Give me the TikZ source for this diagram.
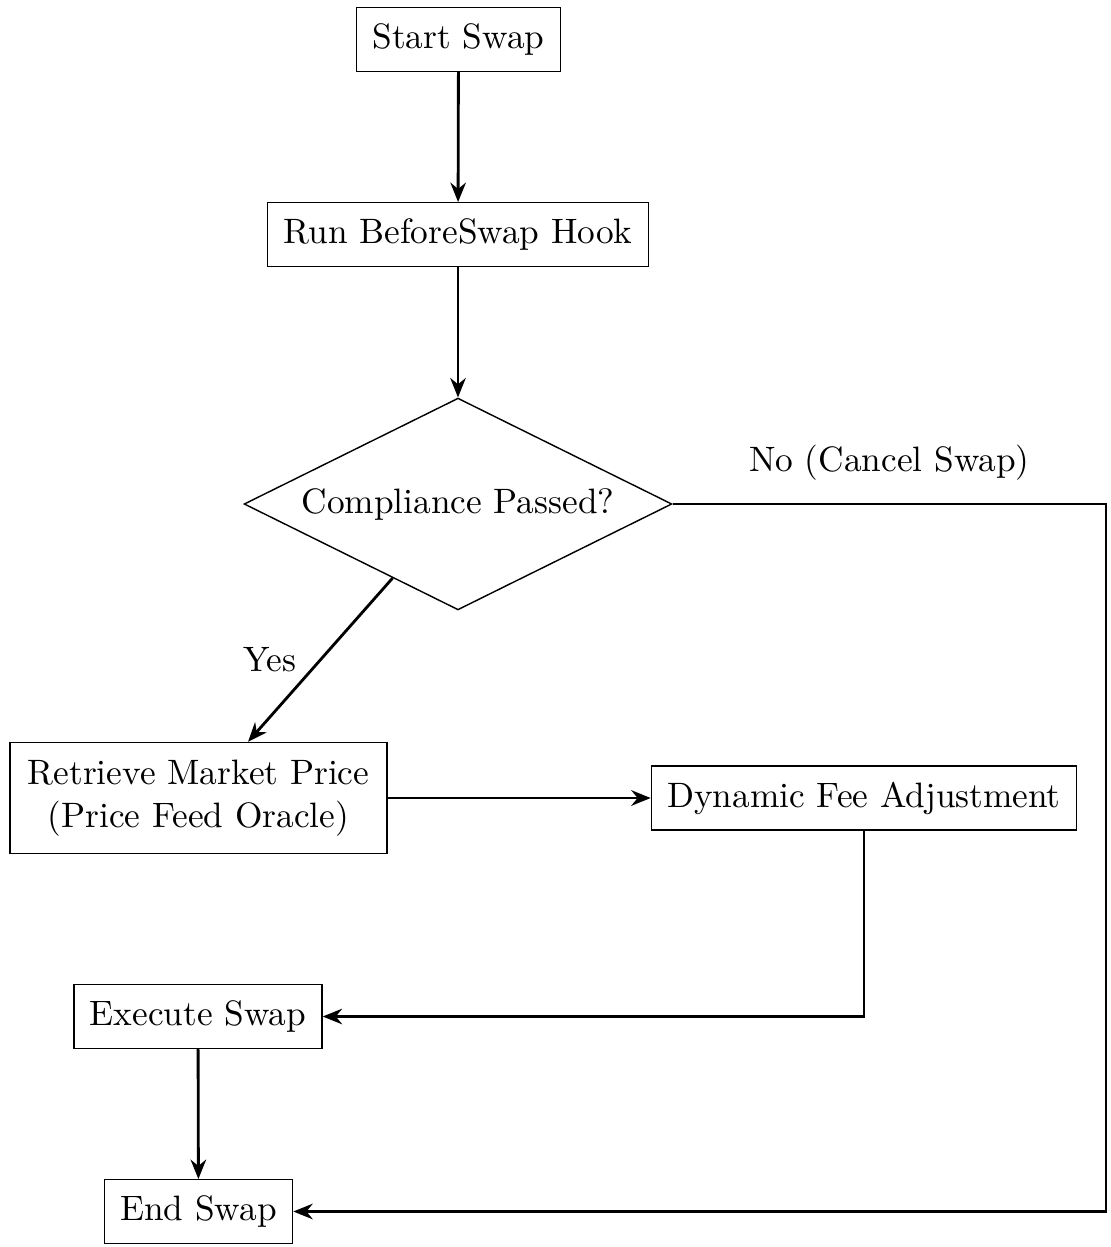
\documentclass[tikz,border=0pt]{standalone}
\usetikzlibrary{shapes.geometric,arrows.meta}
\begin{document}
\begin{tikzpicture}[x=0.2833pt,y=-0.2833pt,
  box/.style={draw,rectangle,inner sep=4.5pt,align=center},
  decision/.style={draw,diamond,aspect=2,inner sep=0pt,minimum width=121.2pt,minimum height=60pt},
  flow/.style={thick,-{Stealth[length=5.5pt,width=4.4pt]}}]
\path[use as bounding box] (0,0) rectangle (1111,1247);
\node[box] (start) at (458.5,39.5) {Start Swap};
\node[box] (hook) at (458,234.5) {Run BeforeSwap Hook};
\node[decision] (comp) at (458,504) {Compliance Passed?};
\node[box,inner sep=5pt] (retr) at (198.5,798) {Retrieve Market Price\\(Price Feed Oracle)};
\node[box] (fee) at (864,798) {Dynamic Fee Adjustment};
\node[box] (exec) at (198,1016.5) {Execute Swap};
\node[box] (endn) at (198.5,1211.5) {End Swap};
\coordinate (nr) at (1106,504);
\draw[flow] (start) -- (hook);
\draw[flow] (hook) -- (comp);
\draw[flow] (comp) -- node[midway,left,xshift=-3pt] {Yes} (retr);
\draw[flow] (comp.east) -- node[midway,above,yshift=3pt] {No (Cancel Swap)} (nr) |- (endn.east);
\draw[flow] (retr) -- (fee);
\draw[flow] (fee.south) |- (exec.east);
\draw[flow] (exec) -- (endn);
\end{tikzpicture}
\end{document}
